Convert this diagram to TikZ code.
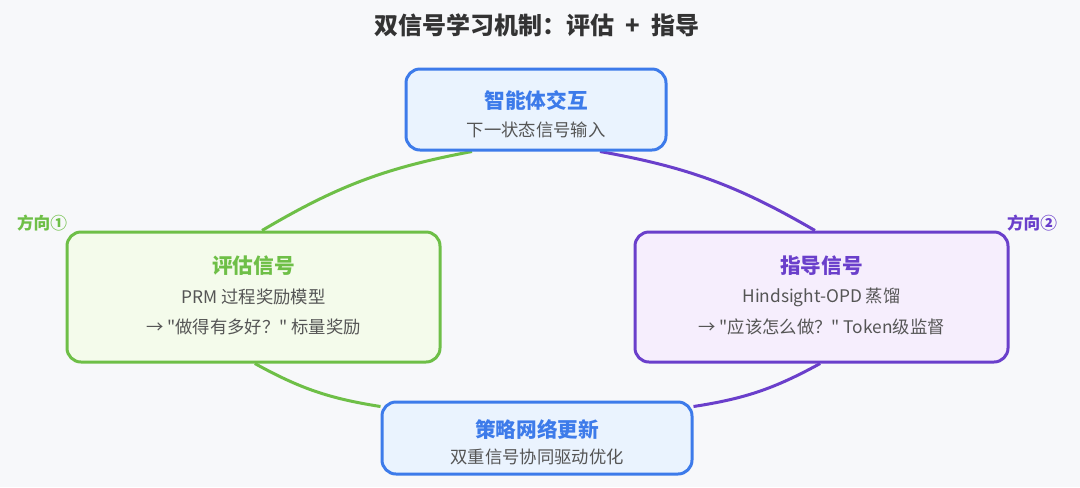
\documentclass[tikz,border=0pt]{standalone}
\usepackage{fontspec}
\setmainfont{Noto Sans CJK SC}[Ligatures=TeXOff]
\usetikzlibrary{backgrounds}
\pgfdeclarelayer{edges}
\pgfsetlayers{background,edges,main}
\definecolor{bgc}{HTML}{F7F8FA}
\definecolor{titleC}{HTML}{333333}
\definecolor{textC}{HTML}{555555}
\definecolor{blueC}{HTML}{3D7BEA}
\definecolor{blueF}{HTML}{EAF3FE}
\definecolor{greenC}{HTML}{6EBF47}
\definecolor{greenF}{HTML}{F4FBEB}
\definecolor{purpleC}{HTML}{6A3FCB}
\definecolor{purpleF}{HTML}{F6EEFD}
\tikzset{
  box/.style={draw, rounded corners=10.5pt, line width=2.25pt, inner sep=0pt},
  bluebox/.style={box, draw=blueC, fill=blueF},
  greenbox/.style={box, draw=greenC, fill=greenF},
  purplebox/.style={box, draw=purpleC, fill=purpleF},
  ttl/.style={font=\fontsize{15.5pt}{18pt}\selectfont\bfseries, inner sep=0pt},
  sub/.style={font=\fontsize{13pt}{16pt}\selectfont, text=textC, inner sep=0pt},
  dirlabel/.style={font=\fontsize{12.5pt}{15pt}\selectfont\bfseries, inner sep=0pt},
  link/.style={line width=2.25pt},
}
\begin{document}
\begin{tikzpicture}[x=0.75pt,y=-0.75pt]
\begin{pgfonlayer}{background}
\fill[bgc] (0,0) rectangle (1080,487);
\end{pgfonlayer}
\useasboundingbox (0,0) rectangle (1080,487);

\node[font=\fontsize{18pt}{21pt}\selectfont\bfseries, text=titleC, inner sep=0pt] (title) at (537,25) {双信号学习机制：评估\hspace{0.45em}+\hspace{0.45em}指导};

% boxes
\node[bluebox, minimum width=195pt, minimum height=60.75pt] (tbox) at (536,109.5) {};
\node[greenbox, minimum width=279.75pt, minimum height=97.5pt] (lbox) at (253.5,297) {};
\node[purplebox, minimum width=279.75pt, minimum height=97.5pt] (rbox) at (821.5,297) {};
\node[bluebox, minimum width=232.5pt, minimum height=54pt] (bbox) at (537,438) {};

% texts
\node[ttl, text=blueC] (t1) at (536,100) {智能体交互};
\node[sub] (t2) at (536,130) {下一状态信号输入};

\node[ttl, text=greenC] (l1) at (253.5,266) {评估信号};
\node[sub] (l2) at (253.5,297) {PRM 过程奖励模型};
\node[sub] (l3) at (253.5,327) {→ "做得有多好？" 标量奖励};

\node[ttl, text=purpleC] (r1) at (821.5,266) {指导信号};
\node[sub] (r2) at (821.5,297) {Hindsight-OPD 蒸馏};
\node[sub] (r3) at (821.5,327) {→ "应该怎么做？" Token级监督};

\node[ttl, text=blueC] (b1) at (537,429) {策略网络更新};
\node[sub] (b2) at (537,457) {双重信号协同驱动优化};

\node[dirlabel, text=greenC] (d1) at (42,223) {方向①};
\node[dirlabel, text=purpleC] (d2) at (1032,223) {方向②};

% connectors
\begin{pgfonlayer}{edges}
\draw[link, greenC] ([xshift=6.4pt]lbox.north) to[bend left=10] ([xshift=-48pt]tbox.south);
\draw[link, purpleC] ([xshift=48pt]tbox.south) to[bend left=10] ([xshift=-4.9pt]rbox.north);
\draw[link, purpleC] ([xshift=-1pt]rbox.south) to[bend left=10] ([yshift=-4.5pt]bbox.north east);
\draw[link, greenC] ([yshift=-4.5pt]bbox.north west) to[bend left=10] ([xshift=1pt]lbox.south);
\end{pgfonlayer}
\end{tikzpicture}
\end{document}
